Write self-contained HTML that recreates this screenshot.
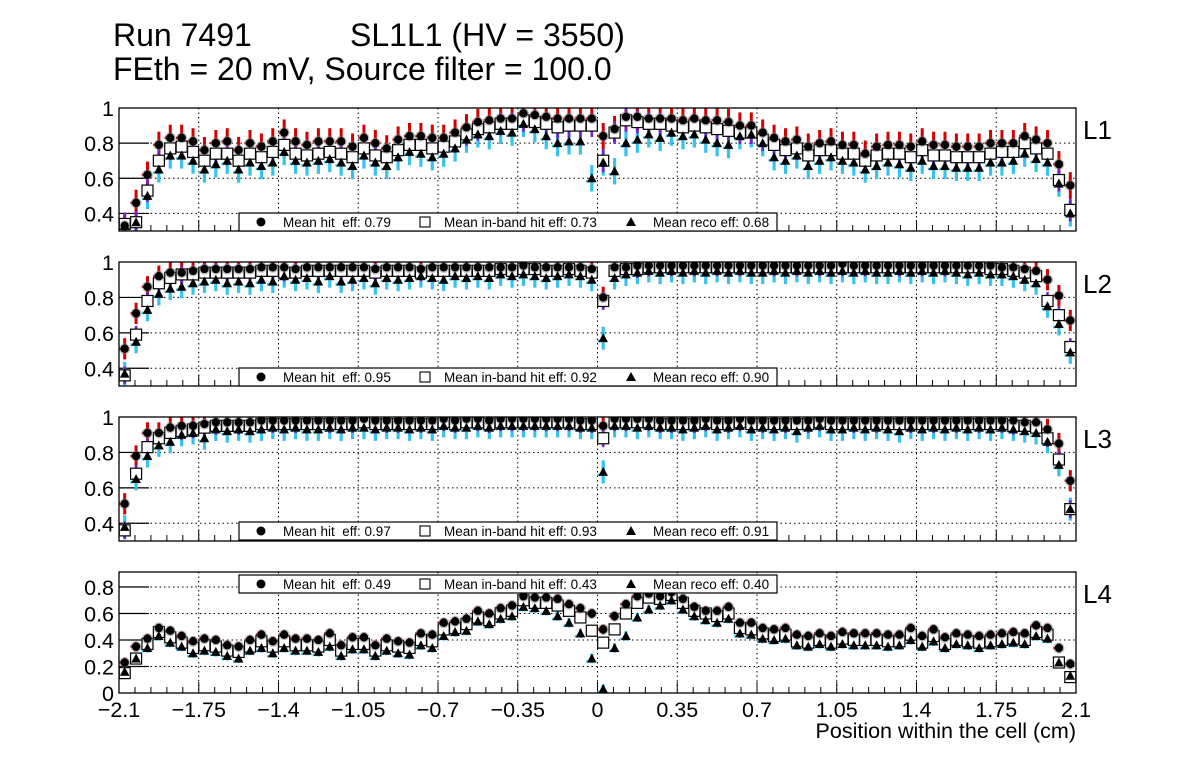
<!DOCTYPE html>
<html><head><meta charset="utf-8"><style>
html,body{margin:0;padding:0;background:#fff;}
svg{display:block;font-family:"Liberation Sans",Arial,sans-serif;}
</style></head><body>
<svg id="chart" width="1196" height="772" viewBox="0 0 1196 772" xmlns="http://www.w3.org/2000/svg">
<rect x="0" y="0" width="1196" height="772" fill="#fff"/>
<text x="113" y="46" font-size="32">Run 7491</text>
<text x="350" y="46" font-size="32">SL1L1 (HV = 3550)</text>
<text x="113" y="80" font-size="32">FEth = 20 mV, Source filter = 100.0</text>
<text x="1076" y="738" font-size="21.5" text-anchor="end">Position within the cell (cm)</text>
<g id="plots"></g>
</svg>
<script>
const layerNames = ["L1","L2","L3","L4"];
const xTickLabels = ["\u22122.1","\u22121.75","\u22121.4","\u22121.05","\u22120.7","\u22120.35","0","0.35","0.7","1.05","1.4","1.75","2.1"];
const xTickValues = [-2.1,-1.75,-1.4,-1.05,-0.7,-0.35,0,0.35,0.7,1.05,1.4,1.75,2.1];
const meanHit = ["0.79","0.95","0.97","0.49"];
const meanInband = ["0.73","0.92","0.93","0.43"];
const meanReco = ["0.68","0.90","0.91","0.40"];

const hitL1 = [0.33,0.46,0.62,0.79,0.83,0.83,0.81,0.76,0.80,0.81,0.76,0.80,0.78,0.81,0.86,0.81,0.79,0.81,0.81,0.81,0.78,0.83,0.80,0.77,0.82,0.84,0.84,0.83,0.83,0.86,0.89,0.92,0.93,0.94,0.94,0.97,0.96,0.95,0.94,0.94,0.94,0.94,0.84,0.88,0.95,0.95,0.94,0.94,0.94,0.93,0.94,0.93,0.93,0.92,0.90,0.90,0.86,0.83,0.81,0.82,0.78,0.80,0.81,0.79,0.79,0.74,0.78,0.79,0.79,0.78,0.81,0.79,0.79,0.78,0.78,0.78,0.80,0.80,0.80,0.84,0.82,0.80,0.68,0.56];
const inbandL1 = [0.34,0.35,0.53,0.70,0.77,0.78,0.75,0.70,0.74,0.74,0.70,0.74,0.72,0.75,0.79,0.74,0.73,0.74,0.75,0.74,0.72,0.77,0.73,0.72,0.76,0.79,0.79,0.77,0.78,0.81,0.85,0.88,0.89,0.91,0.91,0.93,0.92,0.91,0.89,0.90,0.90,0.90,0.70,0.86,0.93,0.92,0.91,0.91,0.90,0.89,0.90,0.89,0.88,0.87,0.86,0.86,0.82,0.79,0.76,0.77,0.73,0.76,0.76,0.74,0.74,0.70,0.73,0.74,0.74,0.72,0.76,0.73,0.73,0.72,0.72,0.72,0.74,0.75,0.75,0.80,0.77,0.74,0.59,0.42];
const recoL1 = [0.33,0.35,0.50,0.65,0.73,0.73,0.70,0.65,0.68,0.70,0.65,0.69,0.67,0.69,0.75,0.70,0.69,0.70,0.71,0.69,0.67,0.73,0.69,0.67,0.72,0.75,0.74,0.72,0.74,0.77,0.82,0.85,0.84,0.87,0.86,0.91,0.88,0.84,0.80,0.81,0.81,0.60,0.69,0.64,0.80,0.82,0.85,0.83,0.86,0.84,0.85,0.82,0.80,0.79,0.84,0.85,0.80,0.72,0.70,0.73,0.67,0.70,0.72,0.70,0.69,0.65,0.67,0.69,0.68,0.66,0.70,0.67,0.67,0.66,0.66,0.66,0.69,0.69,0.70,0.74,0.71,0.69,0.57,0.40];

const hitL2 = [0.51,0.71,0.86,0.92,0.94,0.94,0.95,0.96,0.96,0.96,0.96,0.96,0.97,0.97,0.97,0.96,0.97,0.97,0.97,0.97,0.97,0.97,0.96,0.97,0.97,0.97,0.96,0.97,0.97,0.97,0.97,0.97,0.97,0.97,0.97,0.98,0.97,0.97,0.97,0.97,0.97,0.96,0.80,0.97,0.97,0.98,0.98,0.98,0.98,0.98,0.98,0.98,0.98,0.98,0.98,0.98,0.98,0.98,0.98,0.98,0.98,0.98,0.98,0.99,0.98,0.98,0.98,0.98,0.98,0.98,0.98,0.98,0.98,0.98,0.98,0.98,0.98,0.97,0.97,0.96,0.95,0.90,0.81,0.67];
const inbandL2 = [0.36,0.59,0.78,0.88,0.91,0.93,0.93,0.94,0.94,0.94,0.94,0.94,0.95,0.95,0.94,0.94,0.95,0.95,0.95,0.95,0.95,0.95,0.94,0.95,0.95,0.95,0.94,0.95,0.95,0.95,0.95,0.95,0.95,0.96,0.95,0.96,0.96,0.95,0.95,0.96,0.95,0.94,0.78,0.95,0.96,0.96,0.97,0.97,0.97,0.97,0.97,0.97,0.97,0.97,0.97,0.97,0.97,0.97,0.97,0.97,0.97,0.97,0.97,0.97,0.97,0.97,0.97,0.97,0.97,0.97,0.97,0.97,0.97,0.97,0.97,0.97,0.96,0.96,0.95,0.94,0.92,0.78,0.70,0.52];
const recoL2 = [0.37,0.55,0.73,0.82,0.85,0.86,0.88,0.89,0.90,0.88,0.89,0.88,0.90,0.89,0.92,0.90,0.91,0.89,0.92,0.89,0.90,0.91,0.88,0.91,0.90,0.91,0.92,0.91,0.90,0.92,0.91,0.92,0.91,0.93,0.92,0.93,0.92,0.91,0.92,0.93,0.92,0.90,0.57,0.91,0.93,0.94,0.95,0.94,0.95,0.94,0.95,0.94,0.95,0.94,0.95,0.94,0.94,0.95,0.94,0.95,0.94,0.95,0.94,0.95,0.94,0.95,0.94,0.94,0.95,0.94,0.95,0.94,0.95,0.94,0.93,0.94,0.93,0.93,0.92,0.90,0.88,0.75,0.65,0.49];

const hitL3 = [0.51,0.78,0.91,0.91,0.94,0.95,0.95,0.96,0.97,0.97,0.97,0.97,0.98,0.98,0.98,0.98,0.98,0.98,0.98,0.98,0.98,0.99,0.98,0.98,0.98,0.98,0.98,0.98,0.99,0.98,0.99,0.99,0.98,0.99,0.99,0.99,0.99,0.99,0.99,0.99,0.98,0.98,0.95,0.99,0.99,0.99,0.99,0.98,0.98,0.98,0.98,0.99,0.98,0.98,0.99,0.98,0.98,0.98,0.98,0.98,0.98,0.99,0.98,0.98,0.98,0.98,0.98,0.98,0.98,0.98,0.98,0.98,0.98,0.98,0.98,0.98,0.98,0.98,0.98,0.97,0.97,0.93,0.85,0.64];
const inbandL3 = [0.36,0.68,0.83,0.88,0.91,0.92,0.93,0.94,0.95,0.95,0.95,0.95,0.96,0.96,0.96,0.96,0.96,0.96,0.96,0.96,0.96,0.97,0.96,0.96,0.96,0.96,0.96,0.96,0.97,0.96,0.97,0.97,0.96,0.97,0.97,0.97,0.97,0.97,0.97,0.97,0.96,0.96,0.88,0.97,0.97,0.97,0.97,0.96,0.96,0.96,0.96,0.97,0.96,0.96,0.97,0.96,0.96,0.96,0.96,0.96,0.96,0.97,0.96,0.96,0.96,0.96,0.96,0.96,0.96,0.96,0.96,0.96,0.96,0.96,0.96,0.96,0.96,0.96,0.95,0.95,0.94,0.88,0.76,0.48];
const recoL3 = [0.38,0.65,0.78,0.84,0.86,0.90,0.91,0.88,0.93,0.92,0.93,0.92,0.93,0.94,0.93,0.94,0.93,0.93,0.94,0.93,0.94,0.94,0.93,0.94,0.94,0.93,0.94,0.93,0.95,0.94,0.94,0.95,0.94,0.95,0.95,0.95,0.95,0.95,0.95,0.95,0.94,0.94,0.69,0.95,0.95,0.94,0.95,0.94,0.94,0.93,0.94,0.95,0.93,0.94,0.95,0.93,0.94,0.93,0.94,0.92,0.94,0.95,0.93,0.93,0.94,0.93,0.94,0.93,0.92,0.94,0.93,0.94,0.93,0.94,0.93,0.94,0.93,0.94,0.93,0.92,0.91,0.86,0.73,0.48];

const hitL4 = [0.23,0.35,0.41,0.49,0.47,0.43,0.39,0.41,0.40,0.36,0.35,0.40,0.44,0.39,0.44,0.41,0.41,0.40,0.45,0.36,0.42,0.42,0.36,0.41,0.39,0.38,0.45,0.44,0.53,0.54,0.56,0.62,0.60,0.64,0.66,0.73,0.72,0.72,0.71,0.67,0.64,0.60,0.48,0.58,0.67,0.73,0.75,0.73,0.76,0.71,0.65,0.62,0.62,0.65,0.53,0.53,0.49,0.48,0.49,0.44,0.43,0.45,0.43,0.46,0.45,0.45,0.45,0.44,0.44,0.49,0.43,0.48,0.42,0.45,0.44,0.43,0.44,0.45,0.46,0.45,0.51,0.49,0.34,0.22];
const inbandL4 = [0.15,0.26,0.37,0.46,0.42,0.38,0.34,0.36,0.35,0.32,0.31,0.35,0.39,0.35,0.39,0.36,0.36,0.35,0.40,0.32,0.37,0.37,0.32,0.36,0.35,0.34,0.40,0.39,0.48,0.49,0.52,0.57,0.55,0.60,0.62,0.70,0.68,0.68,0.66,0.62,0.57,0.47,0.38,0.48,0.60,0.68,0.72,0.71,0.74,0.68,0.62,0.60,0.58,0.60,0.49,0.48,0.45,0.43,0.44,0.39,0.38,0.40,0.38,0.41,0.40,0.40,0.40,0.39,0.39,0.44,0.38,0.43,0.37,0.40,0.39,0.38,0.39,0.40,0.41,0.40,0.46,0.44,0.23,0.12];
const recoL4 = [0.16,0.26,0.34,0.43,0.38,0.35,0.30,0.32,0.31,0.28,0.26,0.32,0.34,0.30,0.34,0.32,0.32,0.31,0.35,0.28,0.33,0.33,0.28,0.32,0.30,0.29,0.36,0.34,0.43,0.46,0.47,0.54,0.52,0.56,0.58,0.65,0.64,0.62,0.58,0.53,0.45,0.26,0.03,0.34,0.43,0.57,0.63,0.66,0.70,0.63,0.58,0.55,0.53,0.56,0.45,0.44,0.41,0.40,0.41,0.36,0.35,0.37,0.35,0.37,0.36,0.36,0.36,0.35,0.36,0.40,0.35,0.39,0.34,0.37,0.36,0.34,0.36,0.37,0.38,0.37,0.43,0.41,0.23,0.13];

const yTicksTop = [0.4,0.6,0.8,1];
const yTickLabelsTop = ["0.4","0.6","0.8","1"];
const yTicksBottom = [0,0.2,0.4,0.6,0.8];
const yTickLabelsBottom = ["0","0.2","0.4","0.6","0.8"];

const NS = "http://www.w3.org/2000/svg";
const X0 = 119, X1 = 1076, XMIN = -2.1, XMAX = 2.1, NBINS = 84;
function xScale(v){ return X0 + (v - XMIN) / (XMAX - XMIN) * (X1 - X0); }
function binCenter(i){ return XMIN + (i + 0.5) * (XMAX - XMIN) / NBINS; }
function mk(tag, attrs, parent){
  const e = document.createElementNS(NS, tag);
  for (const k in attrs) e.setAttribute(k, attrs[k]);
  parent.appendChild(e);
  return e;
}
const panels = [
  {top:108,bottom:231,ymin:0.3,ymax:1.0,hit:hitL1,inb:inbandL1,reco:recoL1,eh:0.075,ei:0.065,er:0.075,legY:213,ticks:yTicksTop,tl:yTickLabelsTop},
  {top:262,bottom:386,ymin:0.3,ymax:1.0,hit:hitL2,inb:inbandL2,reco:recoL2,eh:0.06,ei:0.05,er:0.065,legY:368,ticks:yTicksTop,tl:yTickLabelsTop},
  {top:417,bottom:541,ymin:0.3,ymax:1.0,hit:hitL3,inb:inbandL3,reco:recoL3,eh:0.06,ei:0.05,er:0.065,legY:522,ticks:yTicksTop,tl:yTickLabelsTop},
  {top:572,bottom:693,ymin:0,ymax:0.913,hit:hitL4,inb:inbandL4,reco:recoL4,eh:0.035,ei:0.03,er:0.035,legY:575,ticks:yTicksBottom,tl:yTickLabelsBottom}
];
const root = document.getElementById('plots');
const binW = (X1 - X0) / NBINS;
panels.forEach((p, pi) => {
  const g = mk('g', {}, root);
  
  
  const yS = v => p.bottom - (v - p.ymin) / (p.ymax - p.ymin) * (p.bottom - p.top);
  const clip = mk('clipPath', {id:'clip' + pi}, g);
  mk('rect', {x:X0, y:p.top, width:X1 - X0, height:p.bottom - p.top}, clip);
  xTickValues.forEach(v => {
    if (v > XMIN && v < XMAX) {
      const l = mk('line', {x1:xScale(v), x2:xScale(v), y1:p.top, y2:p.bottom, stroke:'#000', 'stroke-width':1, 'stroke-dasharray':'1.5,3'}, g);
      
      
    }
  });
  p.ticks.forEach((v, k) => {
    const y = yS(v);
    if (y > p.top + 1 && y < p.bottom - 1) {
      const l = mk('line', {x1:X0, x2:X1, y1:y, y2:y, stroke:'#000', 'stroke-width':1, 'stroke-dasharray':'1.5,3'}, g);
      
      
      const t = mk('line', {x1:X0, x2:X0 + 30, y1:y, y2:y, stroke:'#000', 'stroke-width':1.2}, g);
      
      
    }
    const lab = mk('text', {x:114, y:y + 8, 'font-size':21.5, 'text-anchor':'end'}, g);
    lab.textContent = p.tl[k];
    
    
  });
  for (let k = 0; k <= 60; k++) {
    const v = XMIN + k * 0.07;
    const major = k % 5 === 0;
    const x = xScale(v);
    const t = mk('line', {x1:x, x2:x, y1:p.bottom, y2:p.bottom - (major ? 11 : 6), stroke:'#000', 'stroke-width':1}, g);
    
    
  }
  const series = mk('g', {'clip-path':'url(#clip' + pi + ')'}, g);
  
  
  const defs = [
    {arr:p.reco, col:'#33c3ee', off:3, w:3.2, e:p.er},
    {arr:p.hit, col:'#d40000', off:0, w:3, e:p.eh},
    {arr:p.inb, col:'#7a1fd6', off:-2, w:2.6, e:p.ei}
  ];
  defs.forEach(d => {
    d.arr.forEach((v, i) => {
      const cx = xScale(binCenter(i));
      const y = yS(v);
      const e1 = mk('line', {x1:cx, x2:cx, y1:yS(v + d.e), y2:yS(v - d.e), stroke:d.col, 'stroke-width':d.w}, series);
      
      
      const e2 = mk('line', {x1:cx - binW / 2, x2:cx + binW / 2, y1:y + d.off, y2:y + d.off, stroke:d.col, 'stroke-width':2.5, 'stroke-dasharray':'3,3'}, series);
      
      
    });
  });
  p.inb.forEach((v, i) => {
    const cx = xScale(binCenter(i)), y = yS(v);
    const r = mk('rect', {x:cx - 5.5, y:y - 5.5, width:11, height:11, fill:'#fff', stroke:'#000', 'stroke-width':1.2}, series);
    
    
  });
  p.hit.forEach((v, i) => {
    const cx = xScale(binCenter(i)), y = yS(v);
    const h = mk('circle', {cx:cx, cy:y, r:5.5, fill:'#777', opacity:0.45}, series);
    
    
    const c = mk('circle', {cx:cx, cy:y, r:4.2, fill:'#000'}, series);
    
    
  });
  p.reco.forEach((v, i) => {
    const cx = xScale(binCenter(i)), y = yS(v);
    const t = mk('polygon', {points:(cx - 4.8) + ',' + (y + 4) + ' ' + (cx + 4.8) + ',' + (y + 4) + ' ' + cx + ',' + (y - 5), fill:'#000'}, series);
    
    
  });
  const fr = mk('rect', {x:X0, y:p.top, width:X1 - X0, height:p.bottom - p.top, fill:'none', stroke:'#000', 'stroke-width':1.3}, g);
  
  
  const lg = mk('g', {}, g);
  
  
  const ly = p.legY, lh = 18;
  mk('rect', {x:239, y:ly, width:538, height:lh, fill:'#fff', stroke:'#000', 'stroke-width':1.2}, lg);
  const my = ly + lh / 2;
  const m1 = mk('circle', {cx:261, cy:my, r:4.5, fill:'#000'}, lg);
  
  
  const t1 = mk('text', {x:283, y:my + 5, 'font-size':13.5}, lg);
  t1.textContent = 'Mean hit  eff: ' + meanHit[pi];
  
  
  t1.style.whiteSpace = 'pre';
  const m2 = mk('rect', {x:420, y:my - 5, width:10, height:10, fill:'#fff', stroke:'#000', 'stroke-width':1.1}, lg);
  
  
  const t2 = mk('text', {x:444, y:my + 5, 'font-size':13.5}, lg);
  t2.textContent = 'Mean in-band hit eff: ' + meanInband[pi];
  
  
  const m3 = mk('polygon', {points:'626,' + (my + 4) + ' 636,' + (my + 4) + ' 631,' + (my - 5), fill:'#000'}, lg);
  
  
  const t3 = mk('text', {x:653, y:my + 5, 'font-size':13.5}, lg);
  t3.textContent = 'Mean reco eff: ' + meanReco[pi];
  
  
  const ll = mk('text', {x:1083, y:p.top + 31, 'font-size':26}, g);
  ll.textContent = layerNames[pi];
  
  
});
xTickValues.forEach((v, k) => {
  const t = mk('text', {x:xScale(v), y:717, 'font-size':21.5, 'text-anchor':'middle'}, root);
  t.textContent = xTickLabels[k];
  
  
});
</script>
</body></html>
